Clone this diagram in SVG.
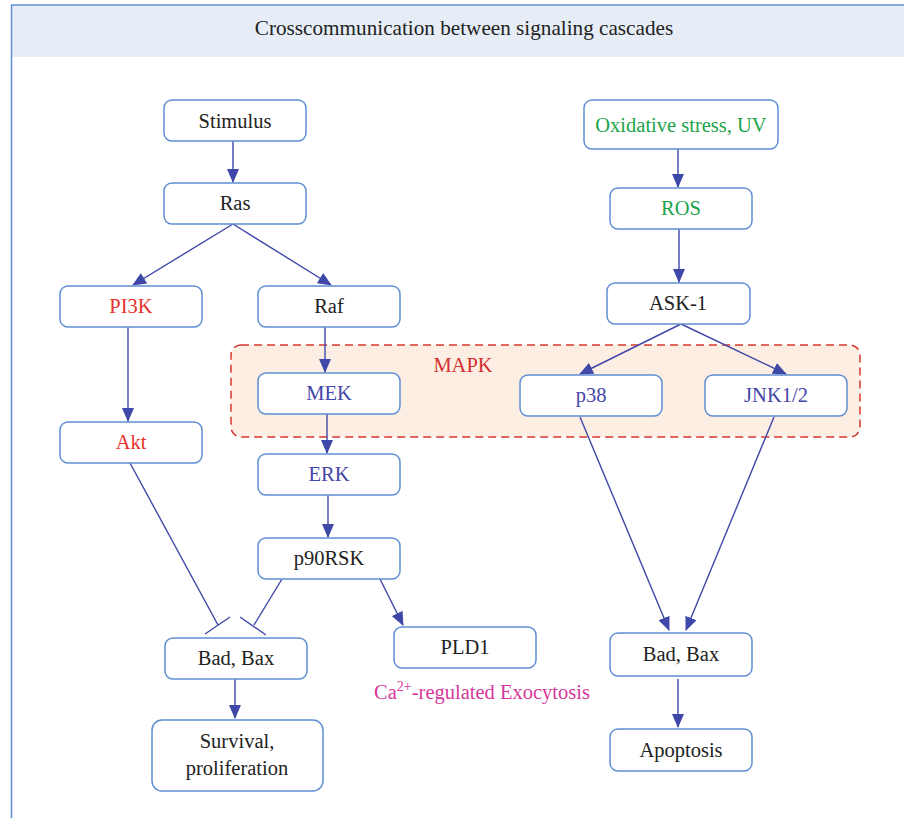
<svg xmlns="http://www.w3.org/2000/svg" width="904" height="818" viewBox="0 0 904 818">
<defs>
<marker id="arr" markerUnits="userSpaceOnUse" markerWidth="14" markerHeight="12" viewBox="0 0 14 12" refX="13" refY="6" orient="auto">
<path d="M0,0 L14,6 L0,12 Z" fill="#3f48a8"/>
</marker>
<style>
.n rect{fill:#fff;stroke:#5f8fd2;stroke-width:1.5}
.t{font-family:"Liberation Serif",serif;font-size:20.5px;text-anchor:middle;fill:#222}
.red{fill:#e8322a}
.blu{fill:#4545a8}
.grn{fill:#1ca44a}
.c line{stroke:#3f48a8;stroke-width:1.4;fill:none}
.c .a{marker-end:url(#arr)}
</style>
</defs>
<rect x="0" y="0" width="904" height="818" fill="#fff"/>
<rect x="11" y="5" width="893" height="52" fill="#e6edf7"/>
<line x1="11" y1="5" x2="904" y2="5" stroke="#5f8fd2" stroke-width="1.5"/>
<line x1="11.5" y1="5" x2="11.5" y2="818" stroke="#5f8fd2" stroke-width="1.5"/>
<text x="464" y="35" font-family="Liberation Serif, serif" font-size="21.2" text-anchor="middle" fill="#222">Crosscommunication between signaling cascades</text>

<g id="mapk">
<rect x="231" y="345" width="629" height="92" rx="10" fill="#fdeee3" stroke="#d8372f" stroke-width="1.5" stroke-dasharray="8,5"/>
<text x="463" y="372" font-family="Liberation Serif, serif" font-size="20.5" text-anchor="middle" fill="#d32f2f">MAPK</text>
</g>

<g class="c" id="connectors">
<line class="a" x1="233" y1="141" x2="233" y2="182"/>
<line class="a" x1="233" y1="224" x2="133" y2="285"/>
<line class="a" x1="233" y1="224" x2="331" y2="285"/>
<line class="a" x1="128" y1="327" x2="128" y2="421"/>
<line class="a" x1="325" y1="327" x2="325" y2="372"/>
<line class="a" x1="327" y1="414" x2="327" y2="453"/>
<line class="a" x1="328" y1="495" x2="328" y2="537"/>
<line x1="130" y1="463" x2="218" y2="625"/>
<line x1="205" y1="634" x2="230" y2="617"/>
<line x1="282" y1="579" x2="254" y2="625"/>
<line x1="240" y1="617" x2="266" y2="635"/>
<line class="a" x1="380" y1="579" x2="403" y2="625"/>
<line class="a" x1="235" y1="679" x2="235" y2="718"/>
<line class="a" x1="678" y1="149" x2="678" y2="187"/>
<line class="a" x1="679" y1="229" x2="679" y2="282"/>
<line class="a" x1="681" y1="324" x2="580" y2="374"/>
<line class="a" x1="681" y1="324" x2="786" y2="374"/>
<line class="a" x1="580" y1="417" x2="669" y2="630"/>
<line class="a" x1="774" y1="417" x2="686" y2="630"/>
<line class="a" x1="678" y1="679" x2="678" y2="727"/>
</g>

<g class="n" id="stimulus"><rect x="164" y="100" width="142" height="41" rx="8"/><text class="t" x="235" y="128">Stimulus</text></g>
<g class="n" id="ras"><rect x="164" y="183" width="142" height="41" rx="8"/><text class="t" x="235" y="210">Ras</text></g>
<g class="n" id="pi3k"><rect x="60" y="286" width="142" height="41" rx="8"/><text class="t red" x="131" y="313">PI3K</text></g>
<g class="n" id="raf"><rect x="258" y="286" width="142" height="41" rx="8"/><text class="t" x="329" y="313">Raf</text></g>
<g class="n" id="mek"><rect x="258" y="373" width="142" height="41" rx="8"/><text class="t blu" x="329" y="400">MEK</text></g>
<g class="n" id="akt"><rect x="60" y="422" width="142" height="41" rx="8"/><text class="t red" x="131" y="449">Akt</text></g>
<g class="n" id="erk"><rect x="258" y="454" width="142" height="41" rx="8"/><text class="t blu" x="329" y="481">ERK</text></g>
<g class="n" id="p90rsk"><rect x="258" y="538" width="142" height="41" rx="8"/><text class="t" x="329" y="565">p90RSK</text></g>
<g class="n" id="badbax1"><rect x="165" y="638" width="142" height="41" rx="8"/><text class="t" x="236" y="665">Bad, Bax</text></g>
<g class="n" id="survival"><rect x="152" y="720" width="171" height="71" rx="10"/><text class="t" x="237" y="748">Survival,</text><text class="t" x="237" y="775">proliferation</text></g>
<g class="n" id="pld1"><rect x="394" y="627" width="142" height="41" rx="8"/><text class="t" x="465" y="654">PLD1</text></g>
<g id="exocytosis"><text x="482" y="699" font-family="Liberation Serif, serif" font-size="20.5" text-anchor="middle" fill="#d6379b">Ca<tspan font-size="14" dy="-8">2+</tspan><tspan dy="8">-regulated Exocytosis</tspan></text></g>
<g class="n" id="oxidative"><rect x="584" y="100" width="194" height="49" rx="8"/><text class="t grn" x="681" y="132">Oxidative stress, UV</text></g>
<g class="n" id="ros"><rect x="610" y="188" width="142" height="41" rx="8"/><text class="t grn" x="681" y="215">ROS</text></g>
<g class="n" id="ask1"><rect x="607" y="283" width="143" height="41" rx="8"/><text class="t" x="678" y="310">ASK-1</text></g>
<g class="n" id="p38"><rect x="520" y="375" width="142" height="41" rx="8"/><text class="t blu" x="591" y="402">p38</text></g>
<g class="n" id="jnk"><rect x="705" y="375" width="142" height="41" rx="8"/><text class="t blu" x="776" y="402">JNK1/2</text></g>
<g class="n" id="badbax2"><rect x="610" y="633" width="142" height="43" rx="8"/><text class="t" x="681" y="661">Bad, Bax</text></g>
<g class="n" id="apoptosis"><rect x="610" y="729" width="142" height="42" rx="8"/><text class="t" x="681" y="757">Apoptosis</text></g>
</svg>
